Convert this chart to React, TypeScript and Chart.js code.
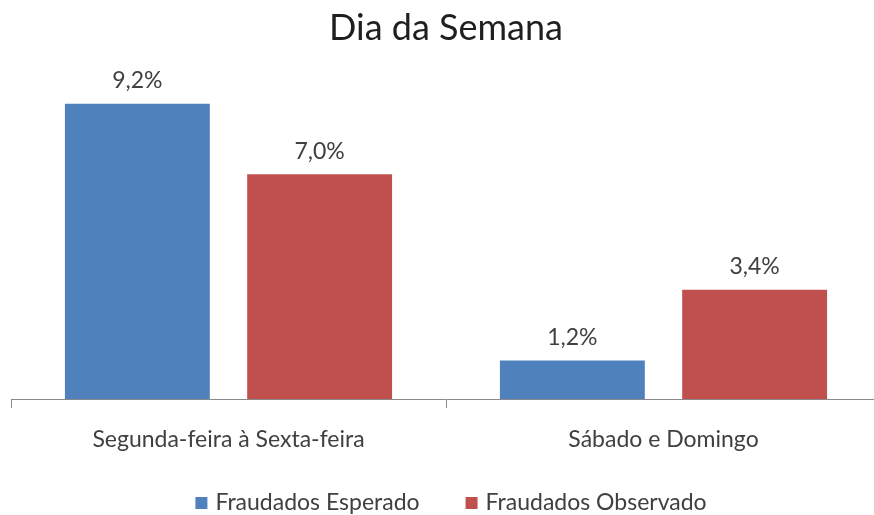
import React, { useEffect, useRef } from "react";
import { Chart, registerables } from "chart.js";

Chart.register(...registerables);

const categories = ["Segunda-feira à Sexta-feira", "Sábado e Domingo"];
const seriesNames = ["Fraudados Esperado", "Fraudados Observado"];
const esperado = [9.2, 1.2];
const observado = [7.0, 3.4];
const seriesColors = ["#4F81BD", "#C0504D"];
const chartTitle = "Dia da Semana";

const FONT = "Lato, 'Open Sans', sans-serif";
const W = 892;
const H = 515;

const valueLabels = {
  id: "valueLabels",
  afterDatasetsDraw(chart: any) {
    const ctx = chart.ctx;
    ctx.save();
    ctx.font = `23px ${FONT}`;
    ctx.fillStyle = "#404040";
    ctx.textAlign = "center";
    ctx.textBaseline = "middle";
    chart.data.datasets.forEach((ds: any, i: number) => {
      const meta = chart.getDatasetMeta(i);
      meta.data.forEach((el: any, j: number) => {
        const v = ds.data[j] as number;
        ctx.fillText(v.toFixed(1).replace(".", ",") + "%", el.x, el.y - 23);
      });
    });
    ctx.restore();
  },
};

// Bottom legend drawn from the chart's datasets (box, small gap, text; wide gap between items)
const bottomLegend = {
  id: "bottomLegend",
  afterDraw(chart: any) {
    const ctx = chart.ctx;
    const box = 12;
    const boxGap = 8;
    const itemGap = 46;
    const cy = 503;
    ctx.save();
    ctx.font = `23px ${FONT}`;
    ctx.textBaseline = "middle";
    ctx.textAlign = "left";
    const items = chart.data.datasets.map((ds: any) => ({
      text: ds.label as string,
      color: ds.backgroundColor as string,
      w: ctx.measureText(ds.label).width,
    }));
    const total =
      items.reduce((s: number, it: any) => s + box + boxGap + it.w, 0) + itemGap * (items.length - 1);
    let x = chart.width / 2 + 5 - total / 2;
    items.forEach((it: any) => {
      ctx.fillStyle = it.color;
      ctx.fillRect(x, cy - box / 2, box, box);
      x += box + boxGap;
      ctx.fillStyle = "#404040";
      ctx.fillText(it.text, x, cy);
      x += it.w + itemGap;
    });
    ctx.restore();
  },
};

export default function App() {
  const ref = useRef<HTMLCanvasElement>(null);
  useEffect(() => {
    if (!ref.current) return;
    const chart = new Chart(ref.current, {
      type: "bar",
      data: {
        labels: categories,
        datasets: [
          { label: seriesNames[0], data: esperado, backgroundColor: seriesColors[0] },
          { label: seriesNames[1], data: observado, backgroundColor: seriesColors[1] },
        ],
      },
      options: {
        animation: false,
        responsive: false,
        maintainAspectRatio: false,
        events: [],
        layout: { padding: { left: 11, right: 11, top: 0, bottom: 60 } },
        datasets: { bar: { categoryPercentage: 0.838, barPercentage: 0.795 } },
        scales: {
          x: {
            grid: {
              offset: true,
              drawOnChartArea: false,
              drawTicks: true,
              tickLength: 9,
              color: "#8a8a8a",
            },
            border: { display: true, color: "#8a8a8a" },
            ticks: {
              font: { family: FONT, size: 23 },
              color: "#404040",
              padding: 17.5,
            },
            afterFit: (scale: any) => {
              scale.height = 56;
            },
          },
          y: {
            display: false,
            min: 0,
            max: 10,
          },
        },
        plugins: {
          title: {
            display: true,
            text: chartTitle,
            font: { family: FONT, size: 36, weight: "normal" },
            color: "#1f1f1f",
            padding: { top: 6.6, bottom: 28.2 },
          },
          legend: { display: false },
          tooltip: { enabled: false },
        },
      },
      plugins: [valueLabels, bottomLegend],
    });
    return () => chart.destroy();
  }, []);
  return (
    <div style={{ position: "fixed", left: 0, top: 0, width: W, height: H, background: "#fff" }}>
      <canvas ref={ref} width={W} height={H} />
    </div>
  );
}
